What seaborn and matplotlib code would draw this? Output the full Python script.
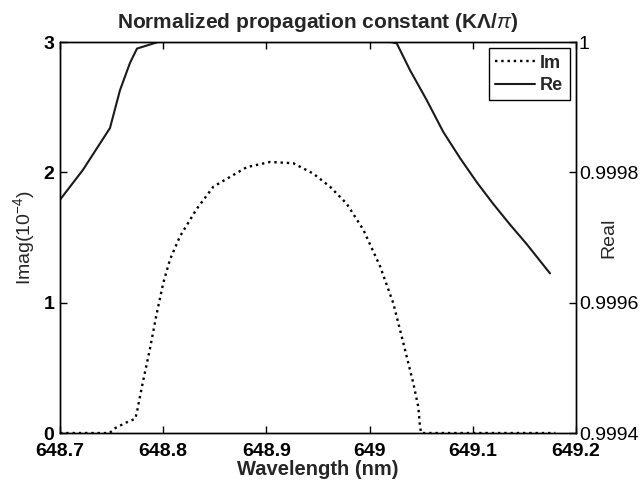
import matplotlib
matplotlib.use("Agg")
import matplotlib.pyplot as plt
import seaborn as sns
import pandas as pd
from matplotlib.lines import Line2D

# ---- data ----
im_wavelength = [648.700, 648.748, 648.754, 648.764, 648.773, 648.775, 648.780, 648.787,
                 648.793, 648.800, 648.8065, 648.8163, 648.8325, 648.8486, 648.8809,
                 648.9035, 648.9261, 648.9455, 648.9616, 648.9778, 648.9939, 649.0101,
                 649.0230, 649.0327, 649.0424, 649.0472, 649.0488, 649.050, 649.180]
im_values = [0.0, 0.0, 0.04, 0.08, 0.11, 0.18, 0.38, 0.64,
             0.89, 1.15, 1.33, 1.51, 1.72, 1.89, 2.04,
             2.08, 2.07, 1.99, 1.89, 1.76, 1.56, 1.28,
             0.995, 0.69, 0.38, 0.20, 0.05, 0.0, 0.0]

re_wavelength = [648.700, 648.7223, 648.7484, 648.7581, 648.7678, 648.7746, 648.795,
                 649.020, 649.0263, 649.0391, 649.0553, 649.0714, 649.0876, 649.1038,
                 649.1196, 649.1360, 649.1522, 649.1748]
re_values = [0.999758, 0.999804, 0.999868, 0.999926, 0.999968, 0.999990, 1.0,
             1.0, 0.999998, 0.999957, 0.999911, 0.999862, 0.999822, 0.999785,
             0.999752, 0.999720, 0.999690, 0.999645]

x_ticks = [648.7, 648.8, 648.9, 649.0, 649.1, 649.2]
x_tick_labels = ["648.7", "648.8", "648.9", "649", "649.1", "649.2"]
left_ticks = [0, 1, 2, 3]
left_tick_labels = ["0", "1", "2", "3"]
right_ticks = [0.9994, 0.9996, 0.9998, 1.0]
right_tick_labels = ["0.9994", "0.9996", "0.9998", "1"]

title_text = "Normalized propagation constant (K\u039b/$\\pi$)"
x_label = "Wavelength (nm)"
left_label = "Imag(10$^{\\mathregular{-4}}$)"
right_label = "Real"
legend_labels = ["Im", "Re"]

# ---- style ----
sns.set_style("white")
plt.rcParams['font.family'] = ['Liberation Sans', 'DejaVu Sans']
plt.rcParams['mathtext.fontset'] = 'custom'
plt.rcParams['mathtext.rm'] = 'Liberation Sans'
plt.rcParams['mathtext.it'] = 'Liberation Sans:italic'
plt.rcParams['mathtext.bf'] = 'Liberation Sans:bold'
plt.rcParams['axes.unicode_minus'] = True

fig = plt.figure(figsize=(6.44, 4.86), dpi=100)
ax = fig.add_axes([0.0932, 0.109, 0.8012, 0.8045])
ax2 = ax.twinx()

im_df = pd.DataFrame({"wl": im_wavelength, "val": im_values})
re_df = pd.DataFrame({"wl": re_wavelength, "val": re_values})

sns.lineplot(data=im_df, x="wl", y="val", ax=ax, color="black", linestyle=":",
             linewidth=1.7, sort=False, estimator=None)
sns.lineplot(data=re_df, x="wl", y="val", ax=ax2, color="#1a1a1a", linestyle="-",
             linewidth=1.5, sort=False, estimator=None)

ax.set_xlim(648.7, 649.2)
ax.set_ylim(0, 3)
ax2.set_ylim(0.9994, 1.0)

ax.set_xticks(x_ticks)
ax.set_xticklabels(x_tick_labels, fontweight="bold")
ax.set_yticks(left_ticks)
ax.set_yticklabels(left_tick_labels, fontweight="bold")
ax2.set_yticks(right_ticks)
ax2.set_yticklabels(right_tick_labels)

for a in (ax, ax2):
    for s in a.spines.values():
        s.set_color("black")
        s.set_linewidth(1.0)

ax.tick_params(axis="x", direction="in", length=5, width=1, top=True, bottom=True,
               labelsize=14, pad=7.5, colors="black")
ax.tick_params(axis="y", direction="in", length=5, width=1, left=True, right=False,
               labelsize=14, pad=4, colors="black")
ax2.tick_params(axis="y", direction="in", length=5, width=1, right=True, left=False,
                labelsize=14, pad=2, colors="black")

ax.set_title(title_text, fontsize=15, fontweight="bold", pad=10)
ax.set_xlabel(x_label, fontsize=14.5, fontweight="bold", labelpad=0)
ax.set_ylabel(left_label, fontsize=14)
ax2.set_ylabel(right_label, fontsize=14)
ax.yaxis.set_label_coords(-0.045, 0.5)
ax2.yaxis.set_label_coords(1.047, 0.5)

handles = [Line2D([], [], color="black", linestyle=":", linewidth=1.7),
           Line2D([], [], color="#1a1a1a", linestyle="-", linewidth=1.5)]
leg = ax2.legend(handles, legend_labels, loc="upper right",
                 prop={"size": 13, "weight": "bold"},
                 frameon=True, fancybox=False, edgecolor="black", framealpha=1,
                 borderaxespad=0.35, handlelength=2.2, handletextpad=0.3,
                 borderpad=0.35, labelspacing=0.3)
leg.get_frame().set_linewidth(1.0)

fig.savefig("out.png", dpi=100)
